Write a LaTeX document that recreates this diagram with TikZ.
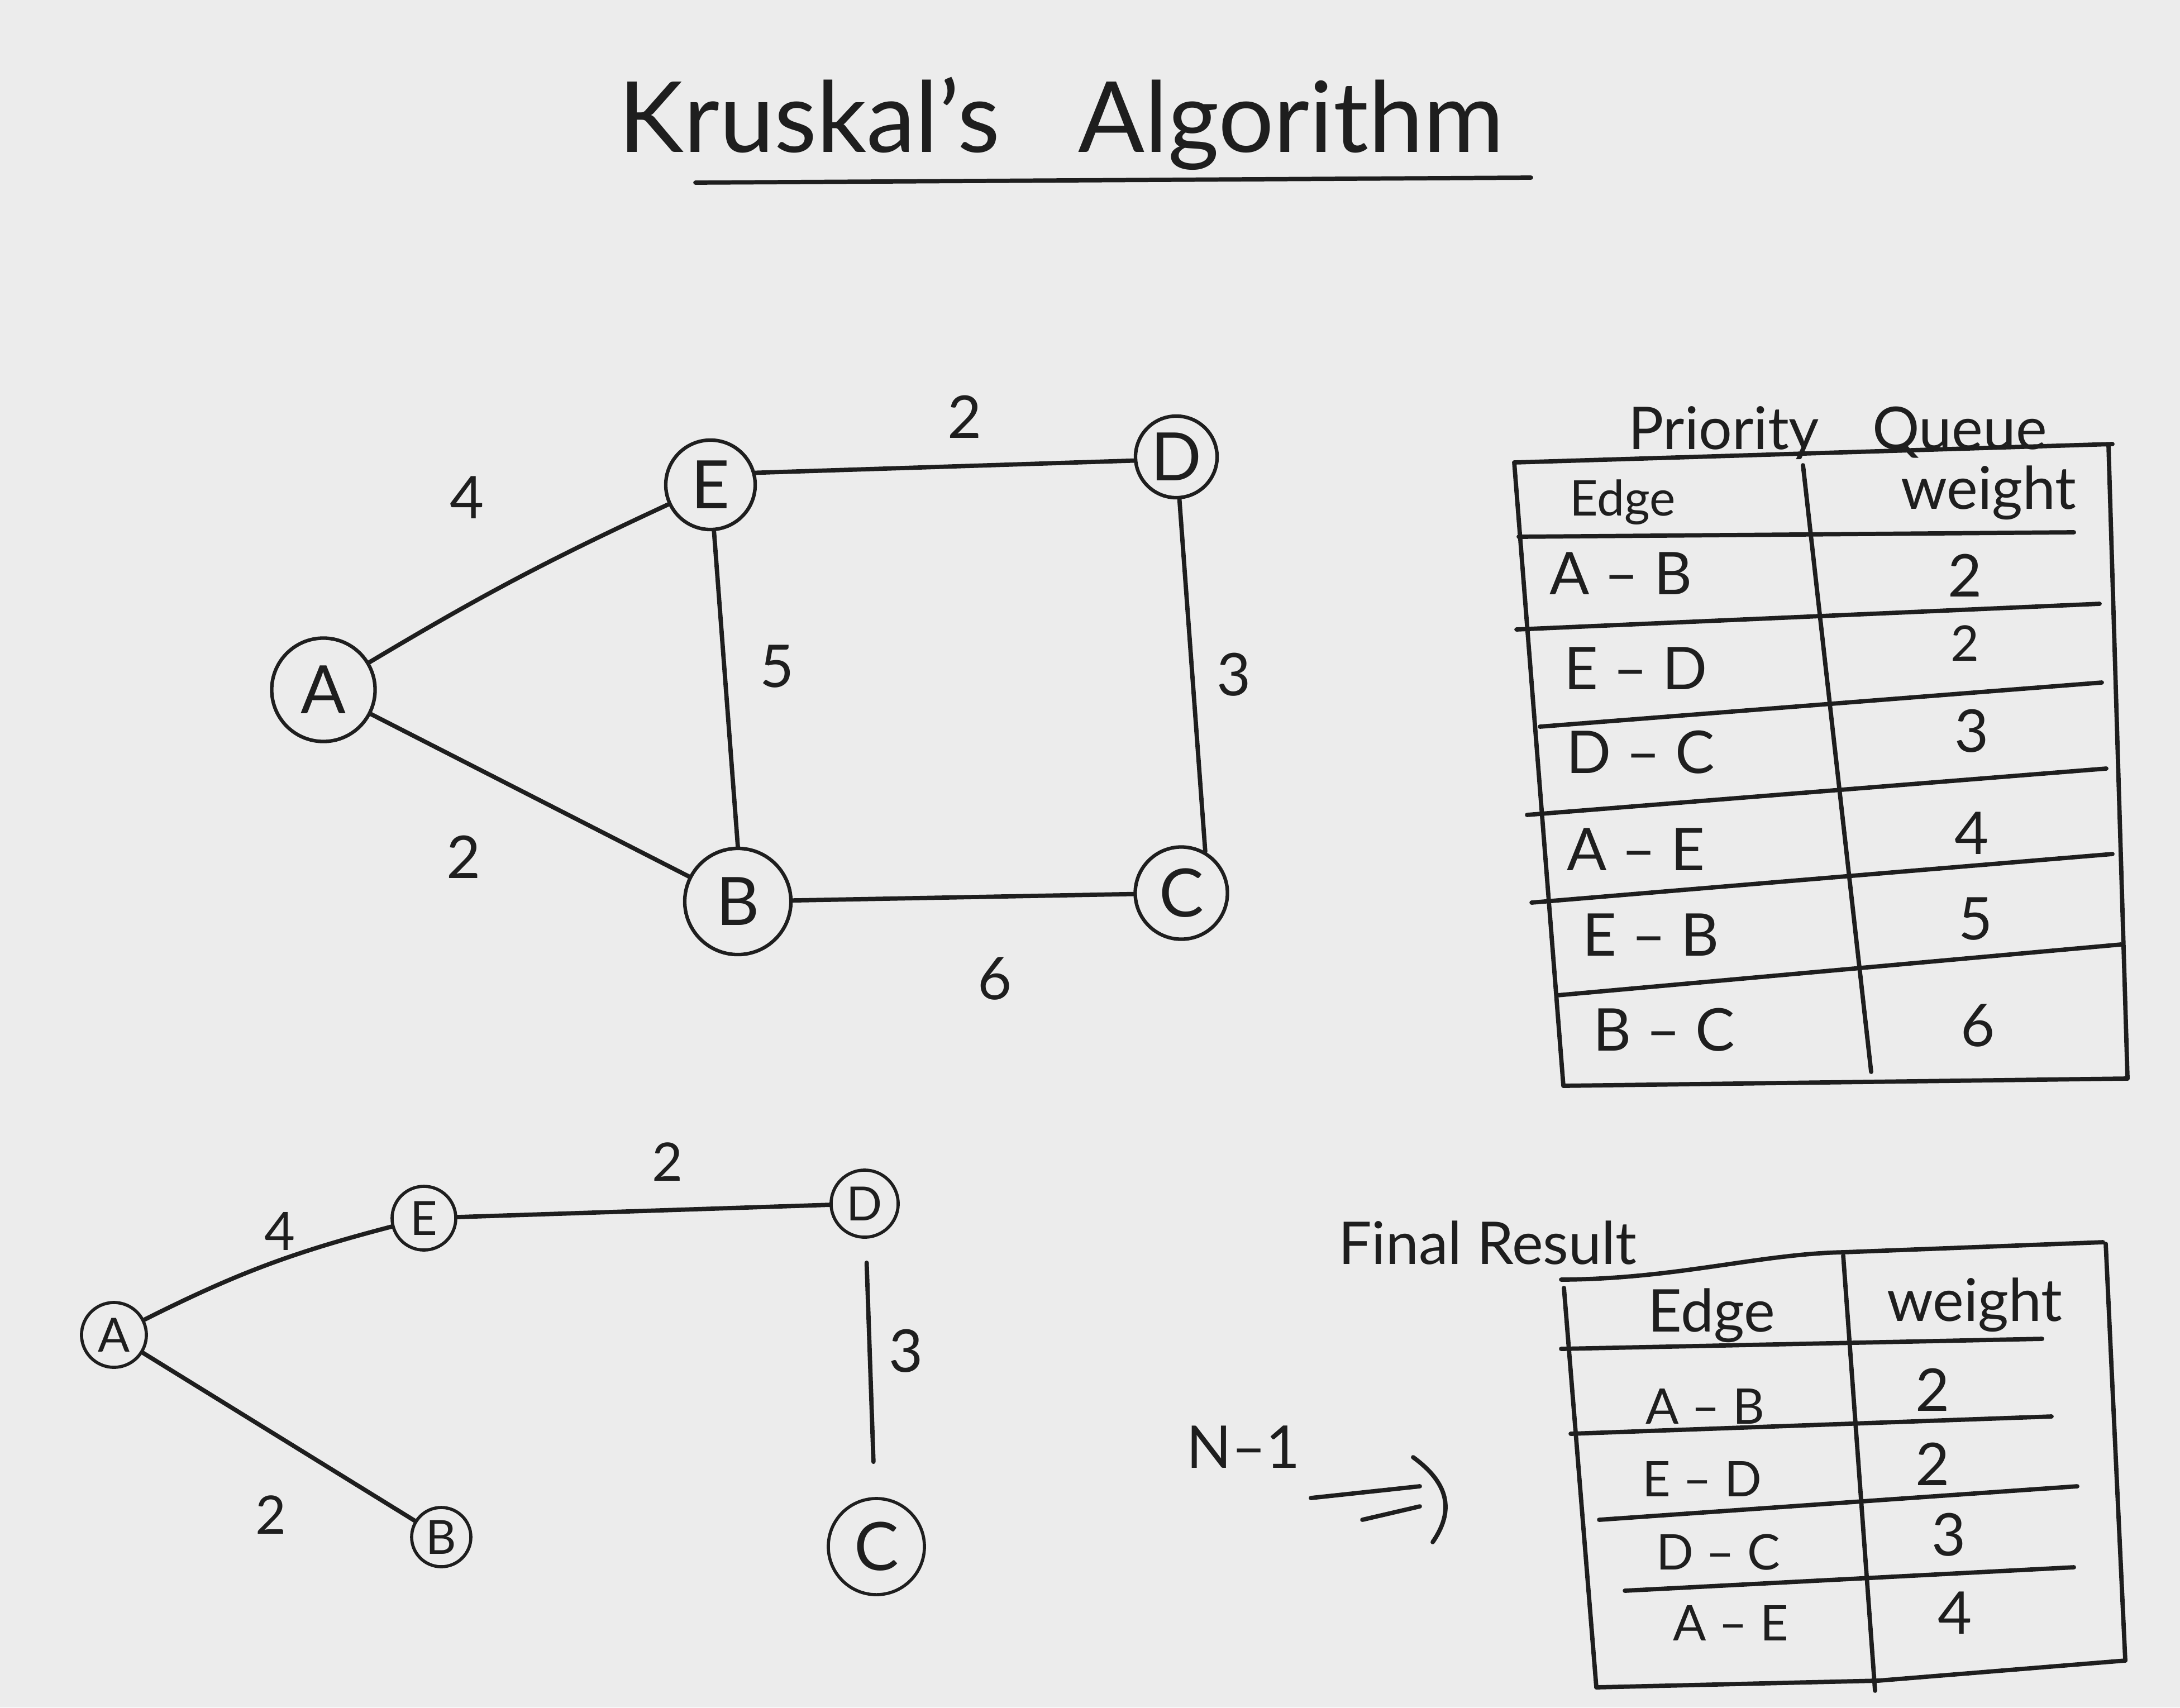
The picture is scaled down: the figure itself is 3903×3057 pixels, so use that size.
\documentclass[tikz,border=0pt]{standalone}
\usepackage{fontspec}
\setmainfont{Lato}
\definecolor{paper}{RGB}{236,236,236}
\definecolor{ink}{RGB}{30,30,30}
\tikzset{
  vtx/.style={circle, draw=ink, line width=1.8pt, inner sep=0pt, text=ink, font=\fontsize{34}{36}\selectfont},
  svtx/.style={circle, draw=ink, line width=1.6pt, inner sep=0pt, text=ink, font=\fontsize{24}{26}\selectfont},
  gedge/.style={draw=ink, line width=2.2pt, line cap=round},
  wlab/.style={text=ink, font=\fontsize{30}{32}\selectfont},
  swlab/.style={text=ink, font=\fontsize{27}{29}\selectfont},
  tline/.style={draw=ink, line width=2.2pt, line cap=round},
  ttext/.style={text=ink, font=\fontsize{30}{32}\selectfont},
  stext/.style={text=ink, font=\fontsize{25}{27}\selectfont},
  heading/.style={text=ink, font=\fontsize{30}{32}\selectfont},
}
\begin{document}
\begin{tikzpicture}[x=0.01cm,y=-0.01cm]
\fill[paper] (0,0) rectangle (3903,3057);
\useasboundingbox (0,0) rectangle (3903,3057);

% Title
\node[text=ink, font=\fontsize{50}{52}\selectfont, anchor=base] (title) at (1900,272) {Kruskal's\hspace{0.8em}Algorithm};
\draw[tline] (1245,327) -- (2741,318);

% ---------- Top graph ----------
\node[vtx, minimum size=1.85cm] (A) at (579,1235) {A};
\node[vtx, minimum size=1.6cm]  (E) at (1272,868) {E};
\node[vtx, minimum size=1.46cm] (D) at (2106,818) {D};
\node[vtx, minimum size=1.9cm]  (B) at (1321,1614) {B};
\node[vtx, minimum size=1.65cm] (C) at (2115,1599) {C};

\draw[gedge] (A) to[bend left=3] (E);
\draw[gedge] (E.15) -- (D.185);
\draw[gedge] (E) -- (B.north);
\draw[gedge] (D) -- (C.60);
\draw[gedge] (A) -- (B);
\draw[gedge] (B) -- (C);

\node[wlab] (lAE) at (836,891) {4};
\node[wlab] (lED) at (1727,746) {2};
\node[wlab] (lEB) at (1391,1193) {5};
\node[wlab] (lDC) at (2209,1208) {3};
\node[wlab] (lAB) at (830,1534) {2};
\node[wlab] (lBC) at (1781,1752) {6};

% ---------- Priority queue table ----------
\node[heading] (pqt) at (3290,775) {Priority\hspace{0.9em}Queue};
\draw[tline] (2711,828) -- (3782,795);
\draw[tline] (2711,828) -- (2799,1944);
\draw[tline] (3775,799) -- (3809,1931);
\draw[tline] (2799,1944) -- (3809,1931);
\draw[tline] (3228,833) -- (3350,1919);
\draw[tline] (2719,961) -- (3713,953);
\draw[tline] (2715,1127) -- (3759,1081);
\draw[tline] (2757,1301) -- (3763,1222);
\draw[tline] (2734,1459) -- (3771,1376);
\draw[tline] (2742,1616) -- (3782,1529);
\draw[tline] (2788,1782) -- (3797,1691);

\node[stext] (pqh1) at (2905,899) {Edge};
\node[ttext] (pqh2) at (3560,882) {weight};
\node[ttext] (pq1e) at (2902,1027) {A – B};
\node[ttext] (pq1w) at (3518,1030) {2};
\node[ttext] (pq2e) at (2929,1197) {E – D};
\node[stext] (pq2w) at (3518,1152) {2};
\node[ttext] (pq3e) at (2937,1347) {D – C};
\node[ttext] (pq3w) at (3530,1309) {3};
\node[ttext] (pq4e) at (2929,1521) {A – E};
\node[ttext] (pq4w) at (3530,1492) {4};
\node[ttext] (pq5e) at (2956,1674) {E – B};
\node[ttext] (pq5w) at (3537,1645) {5};
\node[ttext] (pq6e) at (2979,1844) {B – C};
\node[ttext] (pq6w) at (3541,1836) {6};

% ---------- Bottom graph (result) ----------
\node[svtx, minimum size=1.16cm] (a) at (204,2390) {A};
\node[svtx, minimum size=1.14cm] (e) at (759,2181) {E};
\node[svtx, minimum size=1.2cm]  (d) at (1548,2155) {D};
\node[svtx, minimum size=1.06cm] (b) at (790,2752) {B};
\node[svtx, minimum size=1.72cm, font=\fontsize{34}{36}\selectfont] (c) at (1569,2769) {C};

\draw[gedge] (a) to[bend left=6] (e);
\draw[gedge] (e) -- (d);
\draw[gedge] (a) -- (b);
\draw[gedge, shorten <=0.43cm, shorten >=0.63cm] (d) -- (c);

\node[swlab] (lae) at (501,2204) {4};
\node[swlab] (led) at (1195,2080) {2};
\node[swlab] (lab) at (485,2712) {2};
\node[wlab]  (ldc) at (1622,2419) {3};

% ---------- Final result ----------
\node[heading] (fr) at (2663,2225) {Final Result};
\node[heading] (nm1) at (2226,2591) {N–1};
\draw[tline] (2347,2682) -- (2542,2661);
\draw[tline] (2439,2721) -- (2542,2697);
\draw[tline] (2530,2609) .. controls (2600,2660) and (2600,2710) .. (2565,2761);

\draw[tline] (2795,2291) .. controls (3000,2290) and (3150,2245) .. (3300,2242) -- (3765,2224);
\draw[tline] (2800,2306) -- (2858,3021);
\draw[tline] (3770,2227) -- (3805,2973);
\draw[tline] (2858,3021) -- (3363,3009) -- (3805,2973);
\draw[tline] (3300,2248) -- (3357,3027);
\draw[tline] (2795,2415) -- (3656,2397);
\draw[tline] (2812,2567) -- (3673,2536);
\draw[tline] (2863,2721) -- (3719,2661);
\draw[tline] (2909,2848) -- (3713,2806);

\node[ttext] (frh1) at (3064,2355) {Edge};
\node[ttext] (frh2) at (3535,2336) {weight};
\node[stext] (fr1e) at (3053,2518) {A – B};
\node[ttext] (fr1w) at (3460,2488) {2};
\node[stext] (fr2e) at (3047,2648) {E – D};
\node[ttext] (fr2w) at (3460,2621) {2};
\node[stext] (fr3e) at (3076,2779) {D – C};
\node[ttext] (fr3w) at (3489,2748) {3};
\node[stext] (fr4e) at (3099,2906) {A – E};
\node[ttext] (fr4w) at (3500,2888) {4};
\end{tikzpicture}
\end{document}
